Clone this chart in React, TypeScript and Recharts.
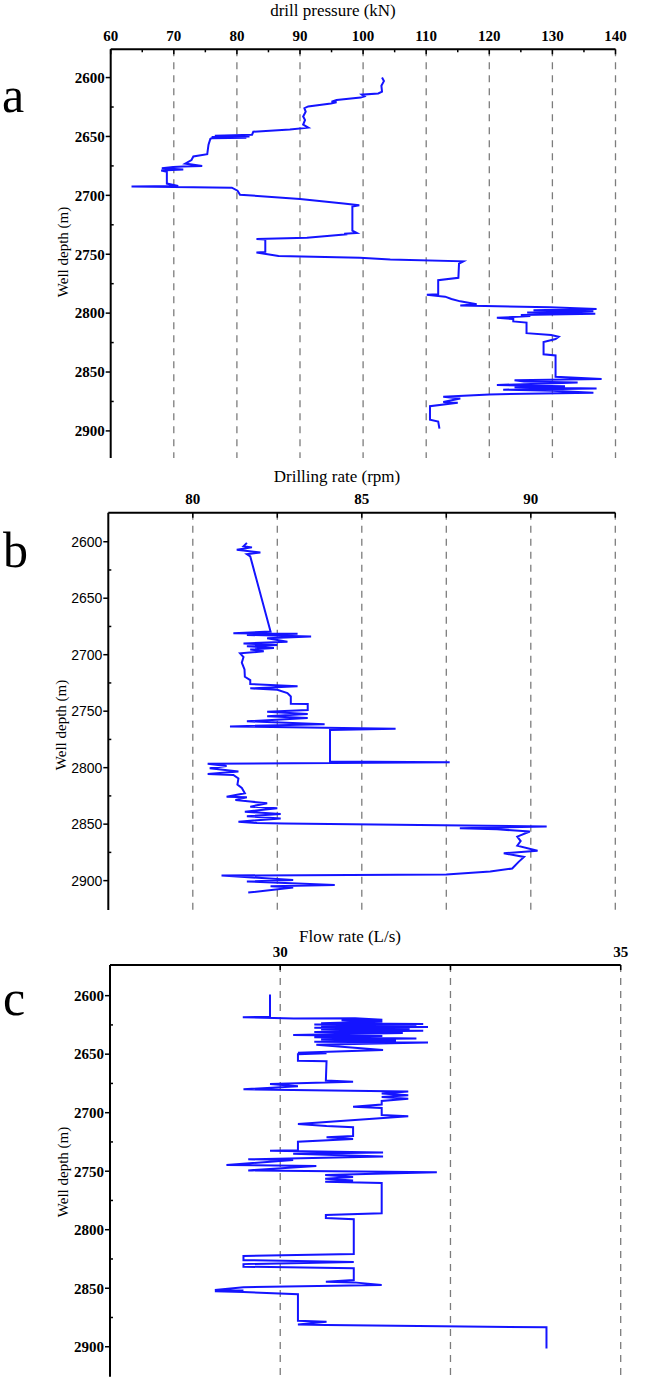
import { LineChart, Line, XAxis, YAxis, ReferenceLine } from 'recharts'

const SERIF = '"Liberation Serif", "Times New Roman", serif'
const SANS = '"Liberation Sans", Arial, sans-serif'
const BLUE = '#1414ff'
const GRID = '#7c7c7c'

// labelled depths every 50 m, small marks in between
const depthTicks = [2600, 2625, 2650, 2675, 2700, 2725, 2750, 2775, 2800, 2825, 2850, 2875, 2900]
const depthLabels = [2600, 2650, 2700, 2750, 2800, 2850, 2900]

// top axis ticks / labels / dashed grid per track
const pressureTicks = [60, 65, 70, 75, 80, 85, 90, 95, 100, 105, 110, 115, 120, 125, 130, 135, 140]
const pressureLabels = [60, 70, 80, 90, 100, 110, 120, 130, 140]
const pressureGrid = [70, 80, 90, 100, 110, 120, 130, 140]

const rpmTicks = [80, 82.5, 85, 87.5, 90, 92.5]
const rpmLabels = [80, 85, 90]
const rpmGrid = [80, 82.5, 85, 87.5, 90, 92.5]

const flowTicks = [30, 32.5, 35]
const flowLabels = [30, 35]
const flowGrid = [30, 32.5, 35]

// [depth m, drill pressure kN]
const pressureTrace: [number, number][] = [
  [2600, 103.0], [2603, 103.3], [2607, 102.9], [2612, 103.0], [2613.5, 102.4], [2614.5, 99.8],
  [2616, 100.2], [2617, 99.6], [2619, 95.8], [2620.5, 95.0], [2621, 95.8], [2622, 94.9],
  [2624.5, 91.3], [2626, 90.7], [2629, 90.9], [2633, 90.5], [2636, 90.8], [2640, 90.5],
  [2642.5, 91.3], [2644, 88.4], [2646, 82.6], [2648.5, 82.4], [2649.5, 76.5], [2650, 82.0],
  [2650.5, 76.0], [2651, 81.5], [2651.5, 76.0], [2652, 75.8], [2657, 75.5], [2665, 75.3],
  [2667, 73.1], [2670, 72.8], [2673, 71.8], [2675, 74.5], [2675.5, 71.5], [2676, 69.9],
  [2677, 68.1], [2678, 71.5], [2679, 68.0], [2680, 68.9], [2690, 68.9], [2692, 70.7],
  [2692.5, 63.3], [2693, 70.0], [2693.5, 79.2], [2696, 80.1], [2699.5, 80.5], [2703, 90.0],
  [2707, 96.9], [2708.5, 99.4], [2709.5, 98.3], [2730, 98.3], [2732, 99.0], [2732.5, 97.0],
  [2733, 97.5], [2736, 91.1], [2737, 83.1], [2737.5, 84.5], [2748, 84.5], [2748.5, 83.1],
  [2751.5, 86.6], [2753, 99.5], [2754.5, 104.3], [2756, 115.9], [2758, 115.2], [2770, 115.1],
  [2772, 111.9], [2784, 111.9], [2784.5, 110.1], [2786, 113.0], [2788, 114.0], [2790, 115.4],
  [2792.5, 118.0], [2793.5, 115.4], [2795, 129.6], [2796.5, 137.0], [2797.5, 127.0], [2798.5, 136.5],
  [2799.5, 126.0], [2800.5, 136.8], [2801.5, 125.0], [2802.5, 126.5], [2804, 121.2], [2805, 123.8],
  [2807, 123.8], [2808, 125.9], [2817, 125.9], [2818.5, 129.8], [2820, 131.0], [2822, 130.5],
  [2824.5, 128.6], [2835, 128.6], [2836, 130.5], [2854, 130.5], [2856, 137.8], [2857, 124.0],
  [2858, 125.5], [2859, 134.0], [2861, 121.2], [2862, 132.0], [2863, 124.0], [2864, 137.0],
  [2865, 122.2], [2866, 130.0], [2867.5, 136.5], [2869, 120.0], [2871, 112.7], [2872.5, 115.4],
  [2875.5, 112.7], [2876, 115.0], [2879, 110.6], [2890.5, 110.6], [2892, 111.9], [2898, 112.1],
]

// [depth m, rotary speed rpm]
const rpmTrace: [number, number][] = [
  [2601, 81.6], [2604, 81.5], [2605, 81.75], [2607, 81.3], [2609.5, 82.0], [2611, 81.6],
  [2613, 81.7], [2679.5, 82.3], [2681, 81.2], [2681.5, 83.1], [2682.5, 81.6], [2684, 83.5],
  [2685.5, 82.2], [2688.5, 82.8], [2690, 81.5], [2691.5, 82.5], [2692.5, 81.6], [2694, 82.4],
  [2695.5, 81.7], [2697, 82.1], [2698.8, 81.4], [2702, 81.5], [2707, 81.45], [2713, 81.53],
  [2719.5, 81.54], [2722.5, 81.7], [2726, 81.7], [2728, 83.1], [2729.8, 81.7], [2731, 82.5],
  [2734, 82.8], [2737, 82.9], [2743.5, 82.9], [2743.6, 83.4], [2749, 83.4], [2750.5, 82.2],
  [2752.5, 83.4], [2754.5, 82.2], [2756, 83.4], [2759, 81.6], [2761.5, 83.9], [2763.5, 81.1],
  [2765.5, 86.0], [2766.6, 84.06], [2794.5, 84.06], [2795.3, 87.6], [2796.5, 80.44], [2798.5, 81.0],
  [2800.5, 80.5], [2803.5, 81.35], [2805.6, 80.44], [2806.5, 81.2], [2809.5, 81.35], [2815, 81.32],
  [2818, 81.45], [2822.6, 81.54], [2825.7, 81.0], [2826.3, 81.6], [2828.6, 81.26], [2830, 81.7],
  [2831.5, 82.2], [2834.5, 81.7], [2836, 82.5], [2839, 81.54], [2841, 82.6], [2843, 81.6],
  [2845, 82.6], [2847.8, 81.35], [2849, 81.9], [2849.5, 82.7], [2852, 90.47], [2853.6, 87.9],
  [2854.5, 89.0], [2856.5, 89.97], [2861, 89.6], [2865, 89.7], [2869, 89.6], [2873.5, 90.2],
  [2875.8, 89.2], [2879, 89.8], [2883.4, 89.64], [2889.3, 89.45], [2892, 88.8], [2894.5, 87.5],
  [2895.5, 80.85], [2899.4, 82.97], [2900.8, 81.6], [2903.8, 84.2], [2905, 82.3], [2906, 82.97],
  [2910.6, 81.64],
]

// [depth m, flow rate L/s]
const flowTrace: [number, number][] = [
  [2599, 29.85], [2618, 29.85], [2618.5, 29.45], [2619.5, 30.2], [2619.3, 31.1], [2620.5, 31.5],
  [2621, 30.9], [2622, 31.5], [2623.5, 30.6], [2624.3, 32.1], [2624.7, 30.5], [2625.5, 32.0],
  [2626, 30.6], [2626.8, 32.17], [2627.5, 30.5], [2628.3, 31.9], [2629, 30.6], [2630, 32.1],
  [2631, 30.5], [2632, 31.8], [2633.6, 30.19], [2634.5, 31.5], [2635.5, 30.5], [2636.5, 32.0],
  [2637.5, 30.6], [2638.5, 31.7], [2639.3, 30.5], [2640, 32.17], [2642, 30.53], [2646.4, 31.51],
  [2648.7, 30.26], [2649.2, 30.68], [2650, 30.26], [2655.7, 30.26], [2656, 30.68], [2672.6, 30.67],
  [2673.5, 31.07], [2675.5, 29.85], [2677.5, 30.26], [2680, 29.46], [2682, 31.88], [2683.5, 31.49],
  [2685, 31.88], [2686.5, 31.49], [2688, 31.88], [2690, 31.49], [2693, 31.49], [2695, 31.07],
  [2696, 31.49], [2702, 31.49], [2703, 31.88], [2709.6, 30.26], [2711.4, 30.68], [2712.5, 31.07],
  [2720, 31.07], [2721, 30.68], [2722.5, 31.07], [2724.8, 30.26], [2732, 30.26], [2732.5, 29.85],
  [2734, 31.51], [2735, 30.19], [2737.5, 31.51], [2739.8, 29.53], [2740.5, 30.19], [2744.7, 29.21],
  [2745.5, 30.53], [2749.3, 29.53], [2751, 32.3], [2753.3, 30.66], [2755, 31.07], [2756.5, 30.66],
  [2758, 31.07], [2759, 30.66], [2760, 31.49], [2786, 31.49], [2787.4, 30.67], [2790, 30.67],
  [2791, 31.08], [2820.8, 31.08], [2822.5, 29.46], [2826, 29.46], [2827.5, 31.08], [2829.4, 29.46],
  [2831.6, 29.46], [2833, 31.08], [2843, 31.08], [2844.4, 30.67], [2845, 31.08], [2847.3, 31.49],
  [2849.2, 29.46], [2851.5, 29.04], [2852, 29.46], [2852.5, 29.04], [2853.2, 29.46], [2855.2, 30.26],
  [2877.8, 30.26], [2878.6, 30.68], [2881, 30.26], [2881.5, 30.68], [2883.4, 33.91], [2901.4, 33.91],
]

const toRows = (trace: [number, number][]) => trace.map(([depth, value]) => ({ depth, value }))

// top axis: marks point into the plot, only some carry a label
function TopTick(props: any) {
  const { x, y, payload, labels, minorLen } = props
  const labelled = labels.includes(payload.value)
  const len = labelled || minorLen == null ? 5 : minorLen
  return (
    <g>
      <line x1={x} x2={x} y1={y} y2={y + len} stroke="#000" strokeWidth={1.5} />
      {labelled && (
        <text x={x} y={y - 8.5} textAnchor="middle" fontFamily={SERIF} fontWeight="bold" fontSize={15} fill="#000">
          {payload.value}
        </text>
      )}
    </g>
  )
}

// depth axis: labelled marks outward, intermediate ones a short inward nub
function DepthTick(props: any) {
  const { x, y, payload, font } = props
  const labelled = depthLabels.includes(payload.value)
  return (
    <g>
      {labelled ? (
        <line x1={x - 5} x2={x} y1={y} y2={y} stroke="#000" strokeWidth={1.5} />
      ) : (
        <line x1={x} x2={x + 3} y1={y} y2={y} stroke="#000" strokeWidth={1.5} />
      )}
      {labelled && (
        <text x={x - 6} y={y} dy="0.355em" textAnchor="end" fill="#000" {...font}>
          {payload.value}
        </text>
      )}
    </g>
  )
}

interface TrackProps {
  top: number
  height: number
  margin: { top: number; right: number; bottom: number; left: number }
  xDomain: [number, number]
  yDomain: [number, number]
  ticks: number[]
  labels: number[]
  minorLen?: number
  grid: number[]
  trace: [number, number][]
  yFont: { fontFamily: string; fontWeight: string | number; fontSize: number }
}

function Track({ top, height, margin, xDomain, yDomain, ticks, labels, minorLen, grid, trace, yFont }: TrackProps) {
  return (
    <div style={{ position: 'absolute', left: 0, top }}>
      <LineChart width={645} height={height} layout="vertical" data={toRows(trace)} margin={margin}>
        <XAxis
          type="number"
          orientation="top"
          domain={xDomain}
          ticks={ticks}
          interval={0}
          allowDataOverflow
          height={30}
          tickSize={0}
          tickMargin={0}
          tickLine={false}
          axisLine={{ stroke: '#000', strokeWidth: 2 }}
          tick={(p: any) => <TopTick {...p} labels={labels} minorLen={minorLen} />}
        />
        <YAxis
          type="number"
          dataKey="depth"
          domain={yDomain}
          ticks={depthTicks}
          interval={0}
          allowDataOverflow
          width={60}
          tickSize={0}
          tickMargin={0}
          tickLine={false}
          axisLine={{ stroke: '#000', strokeWidth: 2 }}
          tick={(p: any) => <DepthTick {...p} font={yFont} />}
        />
        {grid.map(v => (
          <ReferenceLine key={v} x={v} stroke={GRID} strokeWidth={1.3} strokeDasharray="7 6" />
        ))}
        <Line type="linear" dataKey="value" stroke={BLUE} strokeWidth={2} dot={false} isAnimationActive={false} />
      </LineChart>
    </div>
  )
}

const boldSerif = { fontFamily: SERIF, fontWeight: 'bold', fontSize: 15 }
const plainSans = { fontFamily: SANS, fontWeight: 'normal', fontSize: 14 }

export default function App() {
  return (
    <div style={{ position: 'absolute', left: 0, top: 0, width: 645, height: 1386, background: '#fff' }}>
      <Track
        top={0}
        height={470}
        margin={{ top: 19.3, right: 29.5, bottom: 12, left: 50.7 }}
        xDomain={[60, 140]}
        yDomain={[2576, 2923]}
        ticks={pressureTicks}
        labels={pressureLabels}
        minorLen={3}
        grid={pressureGrid}
        trace={pressureTrace}
        yFont={boldSerif}
      />
      <Track
        top={470}
        height={460}
        margin={{ top: 12.7, right: 29.7, bottom: 20, left: 48.3 }}
        xDomain={[77.5, 92.5]}
        yDomain={[2574.3, 2926]}
        ticks={rpmTicks}
        labels={rpmLabels}
        grid={rpmGrid}
        trace={rpmTrace}
        yFont={plainSans}
      />
      <Track
        top={930}
        height={456}
        margin={{ top: 5, right: 24.3, bottom: 9.3, left: 50 }}
        xDomain={[27.5, 35]}
        yDomain={[2573.8, 2925.6]}
        ticks={flowTicks}
        labels={flowLabels}
        grid={flowGrid}
        trace={flowTrace}
        yFont={boldSerif}
      />
      <svg width={645} height={1386} style={{ position: 'absolute', left: 0, top: 0, pointerEvents: 'none' }}>
        <g fontFamily={SERIF} fill="#000">
          <text x={2} y={112} fontSize={50}>a</text>
          <text x={3} y={567} fontSize={50}>b</text>
          <text x={3} y={1015} fontSize={50}>c</text>
          <text x={333} y={16} fontSize={17} textAnchor="middle">drill pressure (kN)</text>
          <text x={337} y={482} fontSize={17} textAnchor="middle">Drilling rate (rpm)</text>
          <text x={350} y={942} fontSize={17} textAnchor="middle">Flow rate (L/s)</text>
          <text x={67.5} y={252} fontSize={15} textAnchor="middle" transform="rotate(-90 67.5 252)">Well depth (m)</text>
          <text x={66} y={725} fontSize={15} textAnchor="middle" transform="rotate(-90 66 725)">Well depth (m)</text>
          <text x={67.5} y={1172} fontSize={15} textAnchor="middle" transform="rotate(-90 67.5 1172)">Well depth (m)</text>
        </g>
      </svg>
    </div>
  )
}
